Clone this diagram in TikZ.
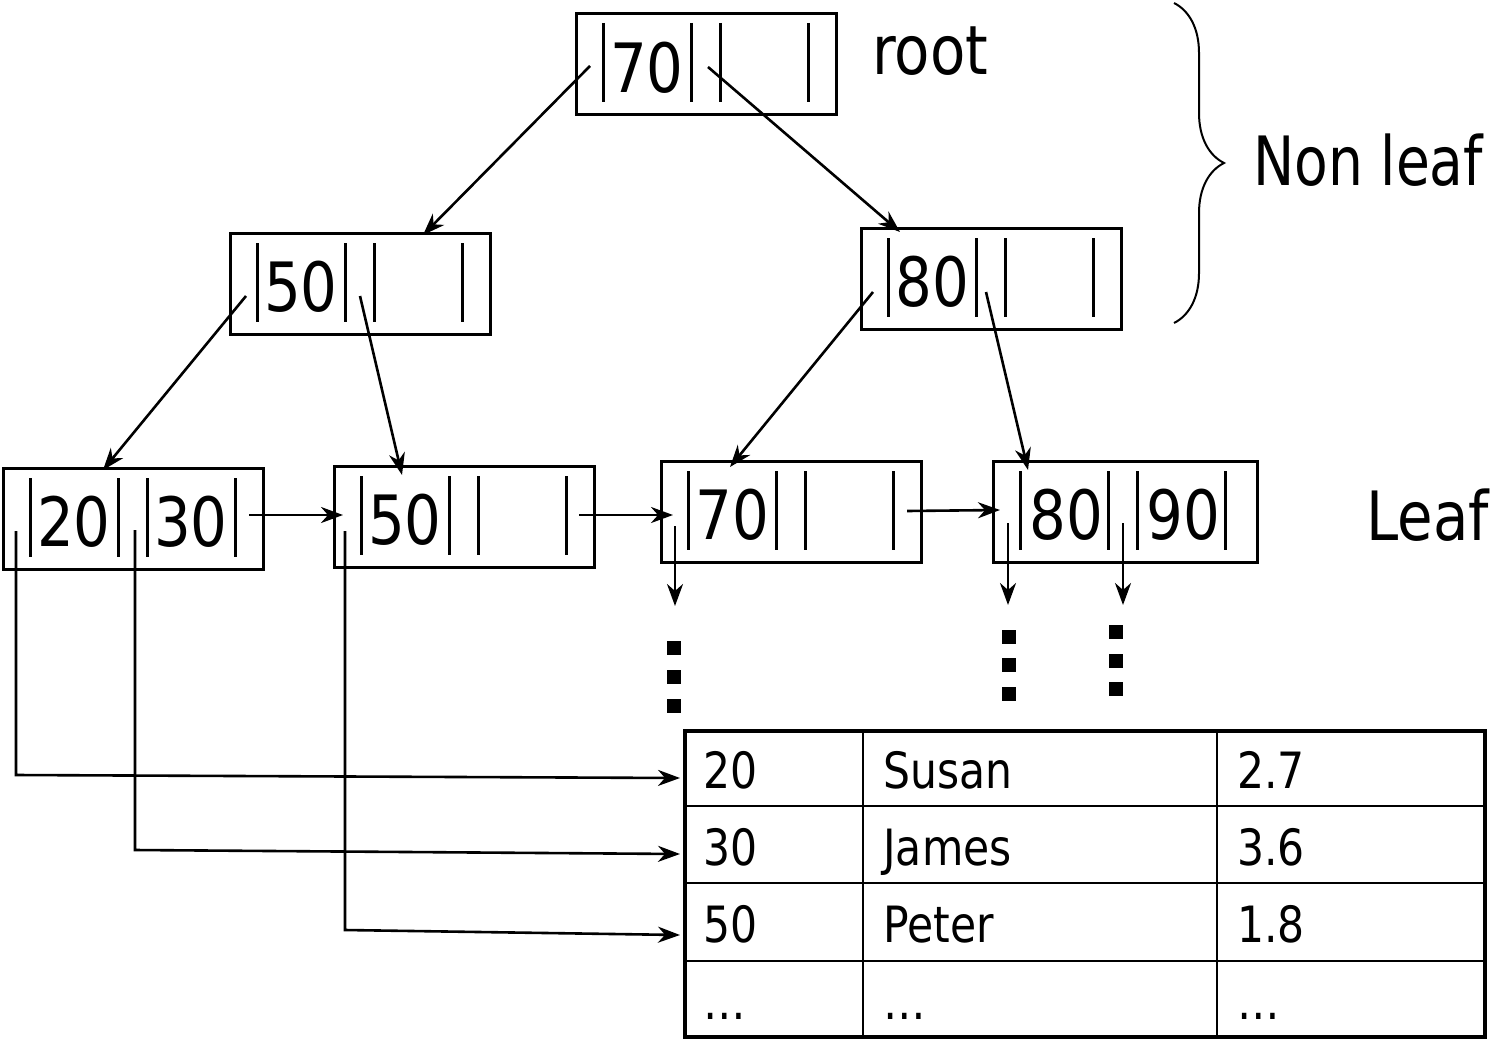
\documentclass[tikz,border=0pt]{standalone}
\usepackage{fontspec}
\setmainfont[FakeStretch=0.85]{DejaVu Sans}
\newfontfamily\narrowfont[FakeStretch=0.81]{DejaVu Sans}
\usetikzlibrary{calc,arrows.meta,decorations.pathreplacing}

\tikzset{
  box/.style={draw, line width=1.5pt, minimum width=130pt, minimum height=50.5pt, inner sep=0pt, anchor=north west},
  bar/.style={line width=1.5pt},
  key/.style={inner sep=0pt, font=\fontsize{34}{40}\selectfont},
  lbl/.style={inner sep=0pt, anchor=base west, font=\fontsize{34}{40}\selectfont},
  cell/.style={inner sep=0pt, anchor=base west, font=\fontsize{25}{30}\selectfont},
  ptr/.style={line width=1.3pt, -{Stealth[length=11pt,width=8pt,inset=3.5pt]}},
  dot/.style={fill, inner sep=0pt, minimum size=7pt},
}
% the four separators inside a node
\newcommand{\keybars}[1]{%
  \foreach \bx in {28,116,145,233}
    \draw[bar] ($(#1.north west)+(\bx,11)$) -- ++(0,79);
}

\begin{document}
\begin{tikzpicture}[x=0.5pt,y=-0.5pt]
\useasboundingbox (0,0) rectangle (1491,1038);

% non leaf level
\node[box] (root) at (575,12) {};
\node[box] (nlA) at (229,232) {};
\node[box] (nlB) at (860,227) {};
% leaf level
\node[box] (lfA) at (2,467) {};
\node[box] (lfB) at (333,465) {};
\node[box] (lfC) at (660,460) {};
\node[box, minimum width=132pt] (lfD) at (992,460) {};
\foreach \n in {root,nlA,nlB,lfA,lfB,lfC,lfD} \keybars{\n};

% keys
\node[key] (rootk) at ($(root.north west)+(72,56)$) {70};
\node[key] (nlAk) at ($(nlA.north west)+(72,55)$) {50};
\node[key] (nlBk) at ($(nlB.north west)+(72,55)$) {80};
\node[key] (lfAk1) at ($(lfA.north west)+(72,55)$) {20};
\node[key] (lfAk2) at ($(lfA.north west)+(189,55)$) {30};
\node[key] (lfBk) at ($(lfB.north west)+(72,55)$) {50};
\node[key] (lfCk) at ($(lfC.north west)+(72,55)$) {70};
\node[key] (lfDk1) at ($(lfD.north west)+(74,55)$) {80};
\node[key] (lfDk2) at ($(lfD.north west)+(191,55)$) {90};

% labels
\node[lbl] (lroot) at (872,75) {root};
\node[lbl] (lnon) at (1253,185) {\narrowfont Non leaf};
\node[lbl] (lleaf) at (1366,540) {Leaf};
\draw[line width=1pt, decorate, decoration={brace, amplitude=25pt}] (1174,3) -- (1174,323);

% tree pointers
\draw[ptr] ($(root.north west)+(15,54)$) -- ($(nlA.north west)+(194,3)$);
\draw[ptr] ($(root.north west)+(133,55)$) -- ($(nlB.north west)+(40,5)$);
\draw[ptr] ($(nlA.north west)+(17,64)$) -- ($(lfA.north west)+(101,3)$);
\draw[ptr] ($(nlA.north west)+(131,64)$) -- ($(lfB.north west)+(69,10)$);
\draw[ptr] ($(nlB.north west)+(13,65)$) -- ($(lfC.north west)+(70,7)$);
\draw[ptr] ($(nlB.north west)+(126,65)$) -- ($(lfD.north west)+(36,10)$);

% leaf chain
\draw[ptr] ($(lfA.north west)+(247,48)$) -- ($(lfB.north west)+(10,50)$);
\draw[ptr] ($(lfB.north west)+(246,50)$) -- ($(lfC.north west)+(13,55)$);
\draw[ptr] ($(lfC.north west)+(247,51)$) -- ($(lfD.north west)+(8,50)$);

% data pointers
\draw[ptr] ($(lfC.north west)+(15,66)$) -- ++(0,80);
\draw[ptr] ($(lfD.north west)+(16,63)$) -- ++(0,82);
\draw[ptr] ($(lfD.north west)+(131,63)$) -- ++(0,82);
\foreach \i/\y in {1/648,2/677,3/706} \node[dot] (dC\i) at (674,\y) {};
\foreach \i/\y in {1/637,2/665,3/694} \node[dot] (dD\i) at (1009,\y) {};
\foreach \i/\y in {1/632,2/661,3/689} \node[dot] (dE\i) at (1116,\y) {};

% table
\node[draw, line width=2pt, minimum width=400pt, minimum height=153pt, inner sep=0pt, anchor=north west] (tbl) at (683,729) {};
\foreach \dy in {77,154,232}
  \draw[line width=1pt] ($(tbl.north west)+(0,\dy)$) -- ($(tbl.north east)+(0,\dy)$);
\foreach \dx in {180,534}
  \draw[line width=1pt] ($(tbl.north west)+(\dx,0)$) -- ($(tbl.south west)+(\dx,0)$);
\foreach \r/\k/\nm/\g in {1/20/Susan/2.7, 2/30/James/3.6, 3/50/Peter/1.8, 4/…/…/…} {
  \node[cell] (id\r) at ($(tbl.north west)+(20,{59+77*(\r-1)})$) {\k};
  \node[cell] (nm\r) at ($(tbl.north west)+(200,{59+77*(\r-1)})$) {\nm};
  \node[cell] (gp\r) at ($(tbl.north west)+(554,{59+77*(\r-1)})$) {\g};
}

% leaf entries into the table
\draw[ptr] ($(lfA.north west)+(14,64)$) -- ++(0,244) -- ($(tbl.north west)+(-3,49)$);
\draw[ptr] ($(lfA.north west)+(133,63)$) -- ++(0,320) -- ($(tbl.north west)+(-3,125)$);
\draw[ptr] ($(lfB.north west)+(12,66)$) -- ++(0,399) -- ($(tbl.north west)+(-3,206)$);
\end{tikzpicture}
\end{document}
